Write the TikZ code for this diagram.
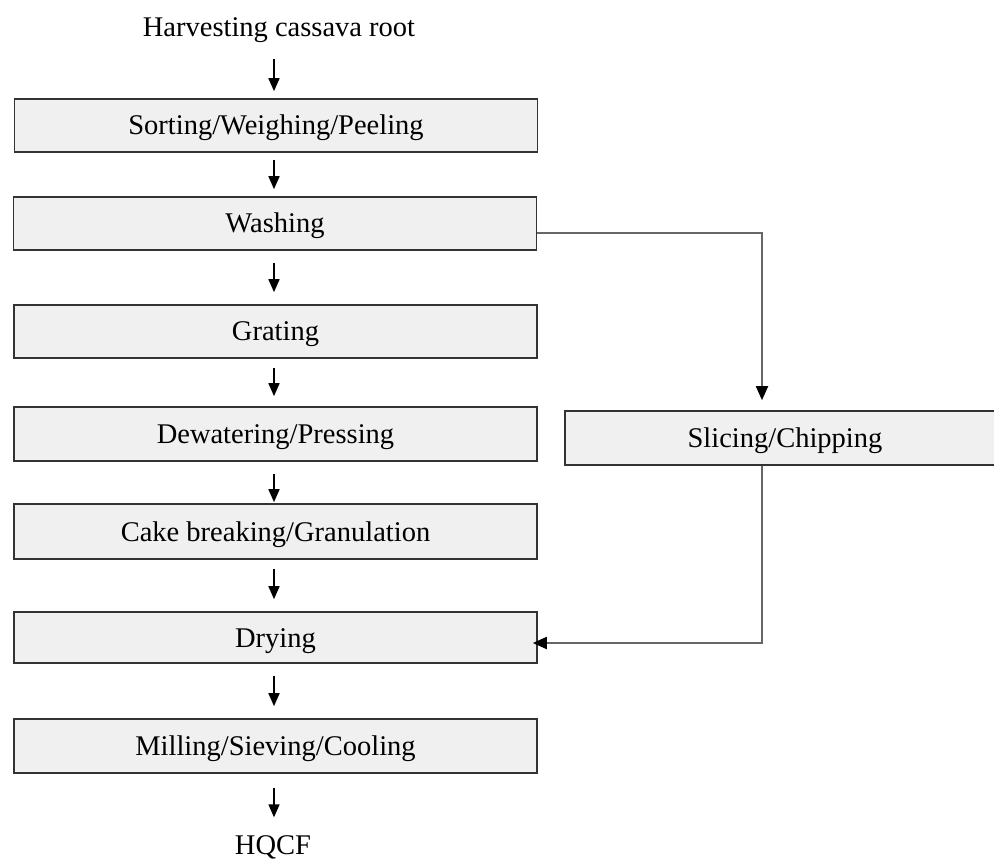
\documentclass[tikz,border=0pt]{standalone}
\usepackage{fontspec}
\setmainfont{Liberation Serif}
\usetikzlibrary{arrows.meta,calc}
\begin{document}
\begin{tikzpicture}[x=1pt,y=-1pt,
  stepbox/.style={draw=black!80,line width=1.6pt,fill=black!6,minimum width=523pt,inner sep=0pt,text height=19pt,text depth=0pt,font=\fontsize{28.5}{33}\selectfont},
  lbl/.style={inner sep=0pt,text height=19pt,text depth=0pt,font=\fontsize{28.5}{33}\selectfont},
  arr/.style={line width=1.6pt,-{Triangle[length=13pt,width=11pt]}},
  sidearr/.style={line width=1.8pt,draw=black!60,-{Triangle[length=14pt,width=12pt,color=black]}}]
\useasboundingbox (0,0) rectangle (994,861);
\begin{scope}
\clip (0,0) rectangle (994,861);
\node[lbl] (harv) at (279,27) {Harvesting cassava root};
\node[stepbox,minimum height=53pt] (sort) at (276,125.5) {Sorting/Weighing/Peeling};
\node[stepbox,minimum height=53pt] (wash) at (275,223.5) {Washing};
\node[stepbox,minimum height=53pt] (grat) at (275.5,331.5) {Grating};
\node[stepbox,minimum height=54pt] (dewa) at (275.5,434) {Dewatering/Pressing};
\node[stepbox,minimum height=55pt] (cake) at (275.5,531.5) {Cake breaking/Granulation};
\node[stepbox,minimum height=51pt] (dry) at (275.5,637.5) {Drying};
\node[stepbox,minimum height=54pt] (mill) at (275.5,746) {Milling/Sieving/Cooling};
\node[stepbox,minimum height=54pt,minimum width=440pt] (slice) at (785,438) {Slicing/Chipping};
\node[lbl] (hqcf) at (273,845) {HQCF};
\coordinate (c1) at (762,233);
\coordinate (c2) at (762,643);
\end{scope}
\draw[arr,shorten <=22pt,shorten >=7pt] (harv.south -| 274,0) -- (sort.north -| 274,0);
\draw[arr,shorten <=7pt,shorten >=7pt] (sort.south -| 274,0) -- (wash.north -| 274,0);
\draw[arr,shorten <=12pt,shorten >=12pt] (wash.south -| 274,0) -- (grat.north -| 274,0);
\draw[arr,shorten <=9pt,shorten >=10pt] (grat.south -| 274,0) -- (dewa.north -| 274,0);
\draw[arr,shorten <=12pt,shorten >=1pt] (dewa.south -| 274,0) -- (cake.north -| 274,0);
\draw[arr,shorten <=9pt,shorten >=12pt] (cake.south -| 274,0) -- (dry.north -| 274,0);
\draw[arr,shorten <=12pt,shorten >=12pt] (dry.south -| 274,0) -- (mill.north -| 274,0);
\draw[arr,shorten <=14pt,shorten >=18pt] (mill.south -| 274,0) -- (hqcf.north -| 274,0);
\draw[sidearr,shorten >=10pt] (wash.east |- c1) -- (c1) -- (c1 |- slice.north);
\draw[sidearr,shorten >=-5pt] (c1 |- slice.south) -- (c2) -- (dry.east |- c2);
\end{tikzpicture}
\end{document}
